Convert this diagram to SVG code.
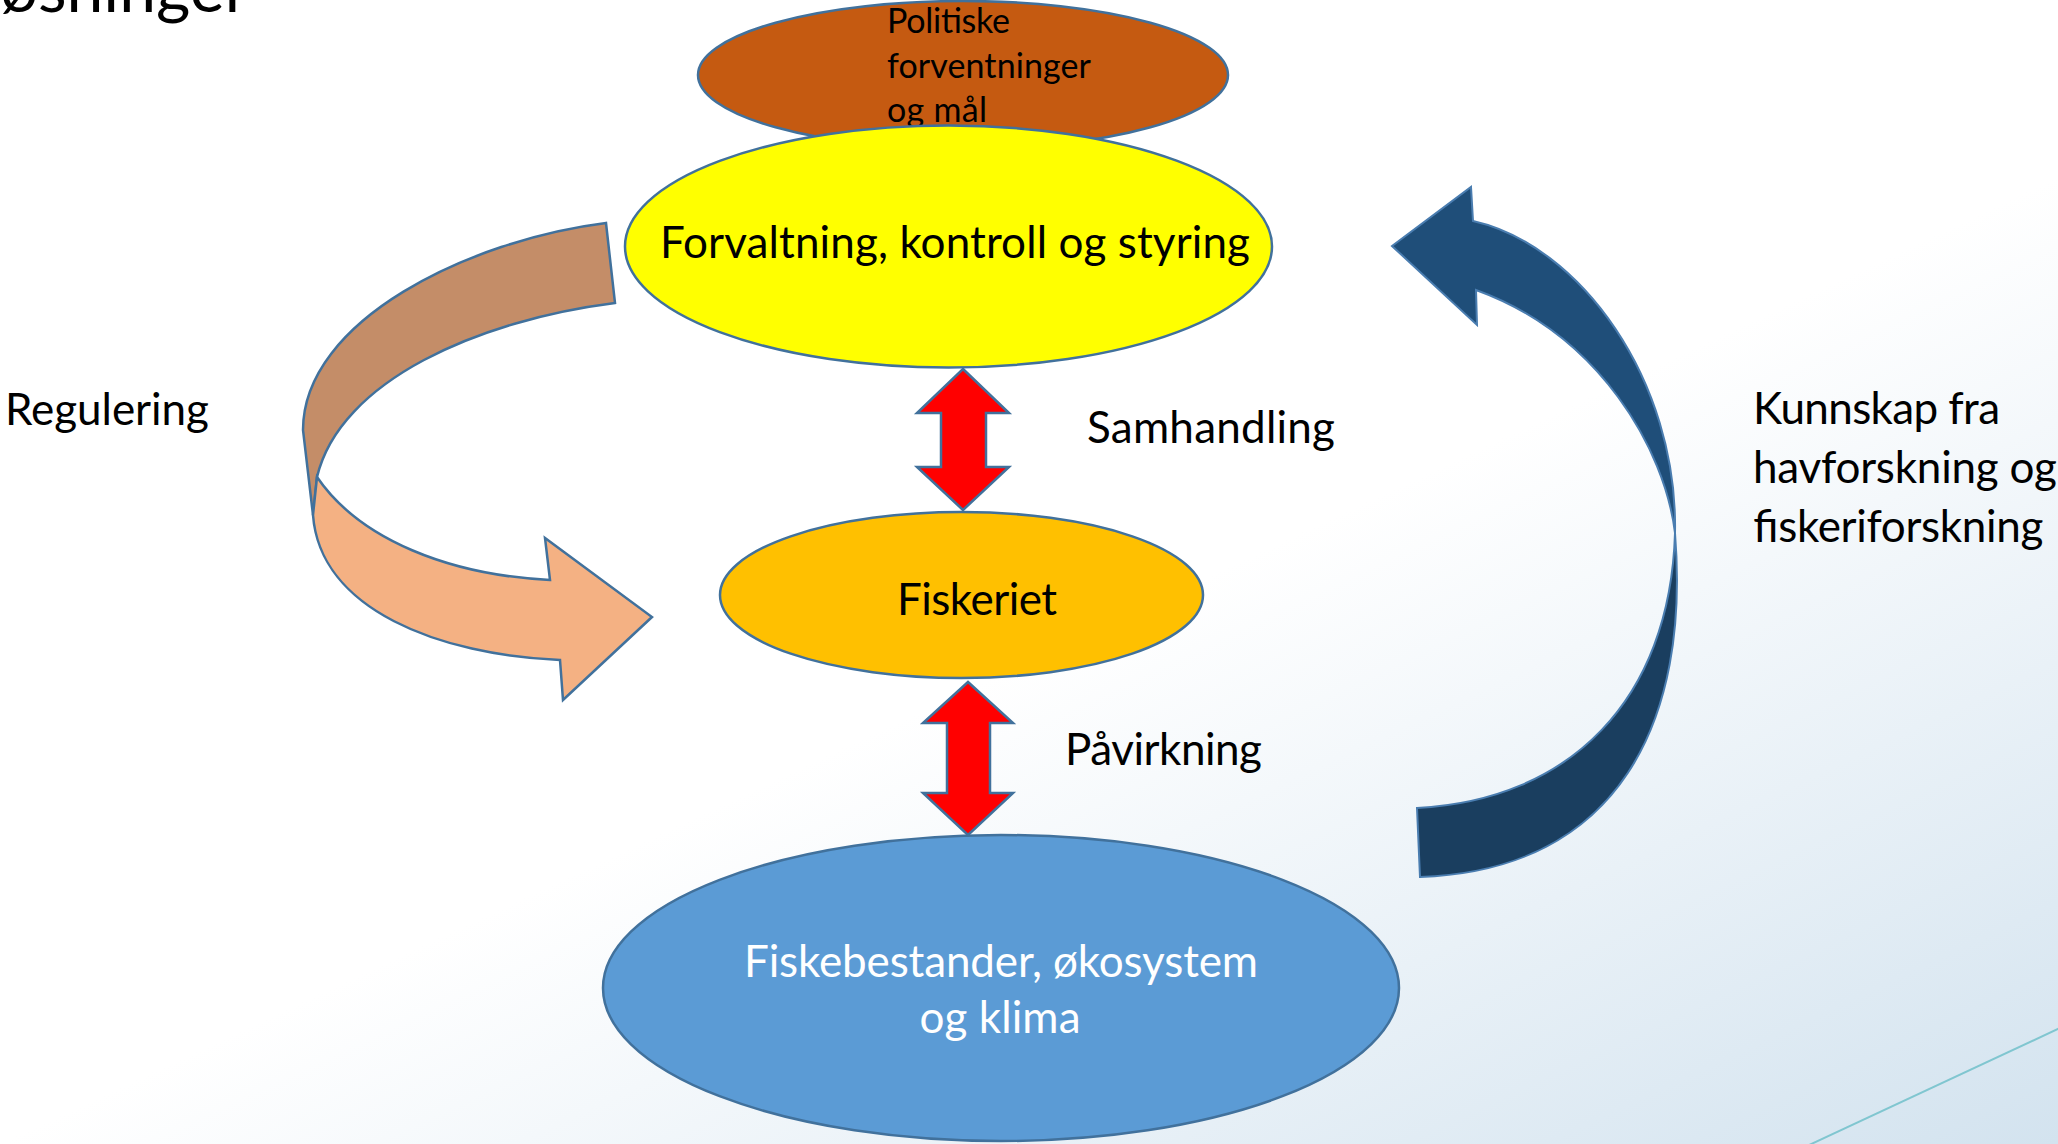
<svg xmlns="http://www.w3.org/2000/svg" width="2058" height="1144" viewBox="0 0 2058 1144">
<defs>
<linearGradient id="bg" gradientUnits="userSpaceOnUse" x1="1000" y1="674" x2="1372" y2="1466">
<stop offset="0" stop-color="#FFFFFF"/>
<stop offset="1" stop-color="#D3E3EF"/>
</linearGradient>
<style>
.t{font-family:Lato,"Liberation Sans",sans-serif;fill:#000}
.w{font-family:Lato,"Liberation Sans",sans-serif;fill:#FFF}
.ol{stroke:#41719C;stroke-width:2.5}
.ob{stroke:#4A7DB0;stroke-width:2}
</style>
</defs>
<rect width="2058" height="1144" fill="url(#bg)"/>
<line x1="1807" y1="1146" x2="2060" y2="1028" stroke="#80C6D0" stroke-width="2"/>
<text class="t" x="-15" y="12" font-size="66">løsninger</text>

<g id="node-politiske">
<ellipse class="ol" cx="963" cy="75" rx="265" ry="74" fill="#C55A11"/>
<text class="t" font-size="34"><tspan x="887" y="33" textLength="123">Politiske</tspan><tspan x="887" y="78" textLength="204">forventninger</tspan><tspan x="887" y="122" textLength="100">og mål</tspan></text>
</g>

<g id="node-forvaltning">
<ellipse class="ol" cx="948.5" cy="246.5" rx="323.5" ry="121" fill="#FFFF00"/>
<text class="t" x="955" y="258" font-size="44" text-anchor="middle" textLength="590">Forvaltning, kontroll og styring</text>
</g>

<g id="node-fiskeriet">
<ellipse class="ol" cx="961.5" cy="595" rx="241.5" ry="83" fill="#FFC000"/>
<text class="t" x="977" y="615" font-size="44" text-anchor="middle" textLength="160">Fiskeriet</text>
</g>

<g id="node-fiskebestander">
<ellipse class="ol" cx="1001" cy="988" rx="398" ry="153" fill="#5B9BD5"/>
<text class="w" font-size="44" text-anchor="middle"><tspan x="1001" y="977" textLength="514">Fiskebestander, økosystem</tspan><tspan x="1000" y="1033" textLength="161">og klima</tspan></text>
</g>

<g id="connectors">
<g id="regulering-arrow">
<path class="ol" fill="#C48D68" d="M606,223 C470,240 303,320 303,430 L313,515 L317,477 C340,380 480,320 615,303 Z"/>
<path class="ol" fill="#F4B183" d="M317,477 C360,540 450,575 550,580 L545,538 L652,617 L563,700 L560,660 C440,655 320,610 313,515 Z"/>
</g>
<g id="kunnskap-arrow">
<path class="ob" fill="#1A3E5F" d="M1675,533 C1690,720 1620,870 1420,877 L1417,808 C1570,800 1670,700 1675,533 Z"/>
<path class="ob" fill="#1F4E79" d="M1392,246 L1471,187 L1473,221 C1580,245 1678,380 1675,533 C1665,450 1600,335 1476,290 L1477,325 Z"/>
</g>
<path id="samhandling-arrow" class="ol" fill="#FF0000" d="M963,369 L1009,413 L986,413 L986,467 L1009,467 L963,510 L917,467 L941,467 L941,413 L917,413 Z"/>
<path id="pavirkning-arrow" class="ol" fill="#FF0000" d="M968,682 L1013,723 L990,723 L990,793 L1013,793 L968,835 L923,793 L947,793 L947,723 L923,723 Z"/>
</g>

<g id="labels">
<text class="t" x="5" y="425" font-size="44" textLength="204">Regulering</text>
<text class="t" x="1087" y="443" font-size="44" textLength="248">Samhandling</text>
<text class="t" x="1065" y="765" font-size="44" textLength="197">Påvirkning</text>
<text class="t" font-size="44"><tspan x="1753" y="424" textLength="247">Kunnskap fra</tspan><tspan x="1753" y="483" textLength="304">havforskning og</tspan><tspan x="1753" y="542" textLength="290">fiskeriforskning</tspan></text>
</g>
</svg>
